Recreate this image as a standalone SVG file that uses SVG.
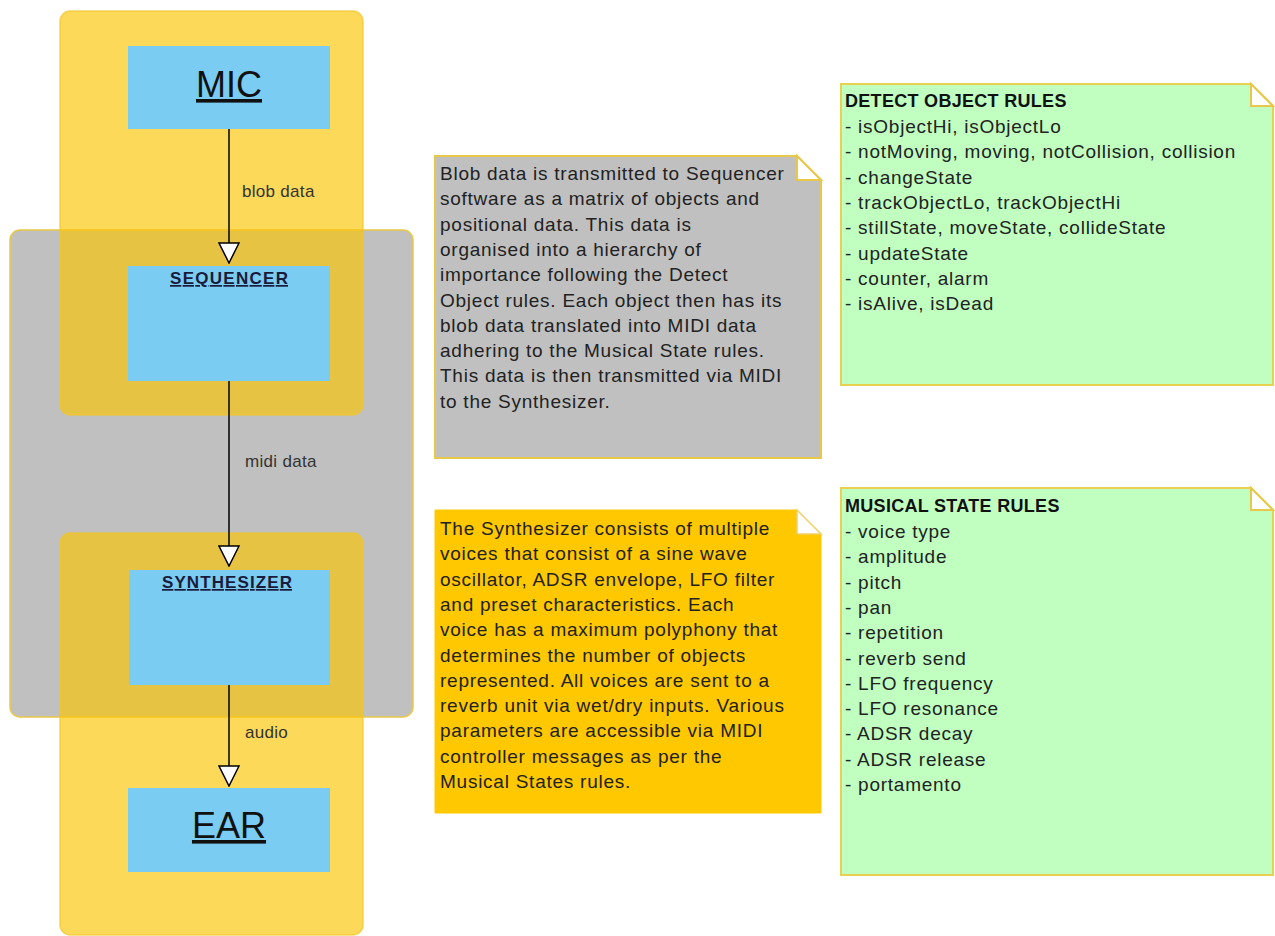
<svg xmlns="http://www.w3.org/2000/svg" width="1275" height="936" viewBox="0 0 1275 936">
<defs>
<style>
.cont-y{fill:rgb(252,196,0);fill-opacity:0.65;stroke:rgb(240,196,40);stroke-width:1.5;stroke-opacity:0.7}
.cont-g{fill:#c0c0c0;stroke:#e8c84a;stroke-width:1.5}
.box{fill:#7accf2}
.big{font-family:"Liberation Sans",Arial,sans-serif;font-size:36px;fill:#111;text-decoration:underline}
.small{font-family:"Liberation Sans",Arial,sans-serif;font-size:17px;font-weight:bold;fill:#1a1a3a;text-decoration:underline}
.lbl{font-family:"Liberation Sans",Arial,sans-serif;font-size:17px;fill:#333;letter-spacing:0.3px}
.txt{font-family:"Liberation Sans",Arial,sans-serif;font-size:19px;fill:#222;letter-spacing:0.75px}
.ttl{font-family:"Liberation Sans",Arial,sans-serif;font-size:18px;font-weight:bold;fill:#111;letter-spacing:0.3px}
.fold{fill:#fff;stroke:#e8c84a;stroke-width:2}
.edge{stroke:#000;stroke-width:1.5;fill:none}
</style>
<marker id="tri" markerUnits="userSpaceOnUse" viewBox="-1 -1 22 22" markerWidth="22" markerHeight="22" refX="20" refY="10" orient="auto">
<path d="M0,0 L20,10 L0,20 Z" fill="#fff" stroke="#000" stroke-width="1.5"/>
</marker>
</defs>
<rect width="1275" height="936" fill="#fff"/>

<g id="sequencer-container">
<rect class="cont-g" x="10" y="230" width="403" height="487" rx="10"/>
</g>
<g id="mic-container">
<rect class="cont-y" x="60" y="11" width="303" height="404" rx="10"/>
</g>
<g id="ear-container">
<rect class="cont-y" x="60" y="533" width="303" height="402" rx="10"/>
</g>

<g id="mic">
<rect class="box" x="128" y="46" width="202" height="83"/>
<text class="big" x="229" y="97" text-anchor="middle">MIC</text>
</g>
<g id="sequencer">
<rect class="box" x="128" y="266" width="202" height="115"/>
<text class="small" x="170" y="284" textLength="118" lengthAdjust="spacing">SEQUENCER</text>
</g>
<g id="synthesizer">
<rect class="box" x="129" y="570" width="201" height="115"/>
<text class="small" x="162" y="588" textLength="130" lengthAdjust="spacing">SYNTHESIZER</text>
</g>
<g id="ear">
<rect class="box" x="128" y="788" width="202" height="84"/>
<text class="big" x="229" y="838" text-anchor="middle">EAR</text>
</g>

<g id="connectors">
<line class="edge" x1="229" y1="129" x2="229" y2="263" marker-end="url(#tri)"/>
<text class="lbl" x="242" y="197">blob data</text>
<line class="edge" x1="229" y1="381" x2="229" y2="566" marker-end="url(#tri)"/>
<text class="lbl" x="245" y="467">midi data</text>
<line class="edge" x1="229" y1="685" x2="229" y2="786" marker-end="url(#tri)"/>
<text class="lbl" x="245" y="738">audio</text>
</g>

<g id="note-sequencer">
<path d="M435,156 H797 L821,180 V458 H435 Z" fill="#c0c0c0" stroke="#e8c84a" stroke-width="2"/>
<path class="fold" d="M797,156 V180 H821 Z"/>
<text class="txt">
<tspan x="440" y="180">Blob data is transmitted to Sequencer</tspan>
<tspan x="440" y="205.3">software as a matrix of objects and</tspan>
<tspan x="440" y="230.6">positional data. This data is</tspan>
<tspan x="440" y="255.9">organised into a hierarchy of</tspan>
<tspan x="440" y="281.2">importance following the Detect</tspan>
<tspan x="440" y="306.5">Object rules. Each object then has its</tspan>
<tspan x="440" y="331.8">blob data translated into MIDI data</tspan>
<tspan x="440" y="357.1">adhering to the Musical State rules.</tspan>
<tspan x="440" y="382.4">This data is then transmitted via MIDI</tspan>
<tspan x="440" y="407.7">to the Synthesizer.</tspan>
</text>
</g>

<g id="note-synthesizer">
<path d="M435,510 H797 L821,534 V813 H435 Z" fill="#ffc800" stroke="#ffc800" stroke-width="1"/>
<path d="M797,510 V534 H821 Z" fill="#fff" stroke="#f0d060" stroke-width="1.5"/>
<text class="txt">
<tspan x="440" y="535">The Synthesizer consists of multiple</tspan>
<tspan x="440" y="560.3">voices that consist of a sine wave</tspan>
<tspan x="440" y="585.6">oscillator, ADSR envelope, LFO filter</tspan>
<tspan x="440" y="610.9">and preset characteristics. Each</tspan>
<tspan x="440" y="636.2">voice has a maximum polyphony that</tspan>
<tspan x="440" y="661.5">determines the number of objects</tspan>
<tspan x="440" y="686.8">represented. All voices are sent to a</tspan>
<tspan x="440" y="712.1">reverb unit via wet/dry inputs. Various</tspan>
<tspan x="440" y="737.4">parameters are accessible via MIDI</tspan>
<tspan x="440" y="762.7">controller messages as per the</tspan>
<tspan x="440" y="788">Musical States rules.</tspan>
</text>
</g>

<g id="note-detect-object-rules">
<path d="M841,84 H1251 L1273,106 V385 H841 Z" fill="#c0ffc0" stroke="#e8d050" stroke-width="2"/>
<path class="fold" d="M1251,84 V106 H1273 Z"/>
<text class="ttl" x="845" y="107">DETECT OBJECT RULES</text>
<text class="txt">
<tspan x="845" y="133">- isObjectHi, isObjectLo</tspan>
<tspan x="845" y="158.3">- notMoving, moving, notCollision, collision</tspan>
<tspan x="845" y="183.6">- changeState</tspan>
<tspan x="845" y="208.9">- trackObjectLo, trackObjectHi</tspan>
<tspan x="845" y="234.2">- stillState, moveState, collideState</tspan>
<tspan x="845" y="259.5">- updateState</tspan>
<tspan x="845" y="284.8">- counter, alarm</tspan>
<tspan x="845" y="310.1">- isAlive, isDead</tspan>
</text>
</g>

<g id="note-musical-state-rules">
<path d="M841,488 H1251 L1273,510 V875 H841 Z" fill="#c0ffc0" stroke="#e8d050" stroke-width="2"/>
<path class="fold" d="M1251,488 V510 H1273 Z"/>
<text class="ttl" x="845" y="512">MUSICAL STATE RULES</text>
<text class="txt">
<tspan x="845" y="538">- voice type</tspan>
<tspan x="845" y="563.3">- amplitude</tspan>
<tspan x="845" y="588.6">- pitch</tspan>
<tspan x="845" y="613.9">- pan</tspan>
<tspan x="845" y="639.2">- repetition</tspan>
<tspan x="845" y="664.5">- reverb send</tspan>
<tspan x="845" y="689.8">- LFO frequency</tspan>
<tspan x="845" y="715.1">- LFO resonance</tspan>
<tspan x="845" y="740.4">- ADSR decay</tspan>
<tspan x="845" y="765.7">- ADSR release</tspan>
<tspan x="845" y="791">- portamento</tspan>
</text>
</g>
</svg>
